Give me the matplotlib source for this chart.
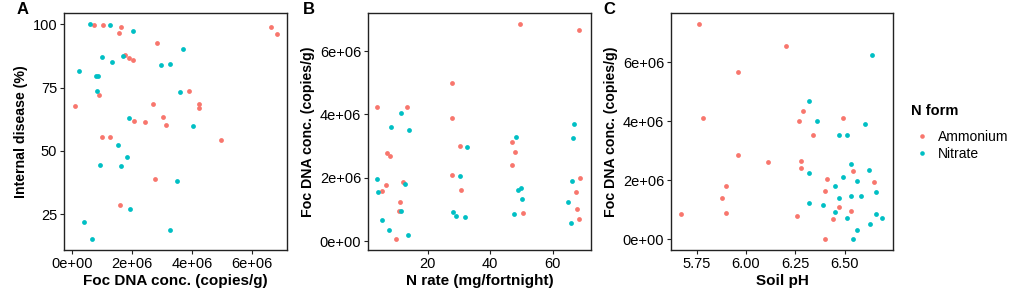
import matplotlib.pyplot as plt
from matplotlib.ticker import FuncFormatter
from matplotlib.lines import Line2D

plt.rcParams['font.family'] = ['Liberation Sans', 'DejaVu Sans']

AMM = '#F8766D'
NIT = '#00BFC4'

# --- Panel A: Foc DNA (x, 1e6 copies/g) vs internal disease (%) ---
a_amm_foc = [0.74, 1.04, 1.64, 1.57, 6.65, 6.84, 2.82, 1.77, 1.88, 2.02, 3.89, 4.25, 4.25,
             0.08, 0.89, 2.70, 3.02, 2.07, 2.42, 3.13, 0.98, 1.25, 4.98, 2.77, 1.59]
a_amm_dis = [99.9, 99.9, 98.9, 96.7, 98.9, 96.3, 92.8, 88.0, 86.7, 85.8, 73.8, 68.4, 67.1,
             67.8, 72.0, 68.7, 63.6, 62.0, 61.6, 60.3, 55.5, 55.5, 54.2, 38.9, 28.8]
a_nit_foc = [0.59, 1.25, 2.04, 3.69, 0.98, 1.33, 1.71, 2.97, 3.27, 0.21, 0.79, 0.86, 0.84,
             3.61, 1.90, 4.03, 1.52, 1.82, 0.93, 1.63, 3.51, 1.93, 0.38, 0.67, 3.27]
a_nit_dis = [100.0, 99.9, 97.2, 90.1, 87.0, 85.1, 87.5, 83.8, 84.5, 81.6, 79.6, 79.6, 73.6,
             73.2, 62.9, 59.7, 52.2, 47.8, 44.6, 44.0, 38.2, 27.0, 22.1, 15.3, 18.8]

# --- Panel B: N rate (mg/fortnight) vs Foc DNA (1e6 copies/g) ---
b_amm_rate = [3.7, 5.3, 6.6, 7.0, 7.8, 11.0, 10.6, 9.8, 12.1, 13.4, 27.8, 27.8, 27.8, 30.4,
              30.5, 49.6, 47.0, 48.0, 47.1, 50.5, 68.5, 68.7, 67.4, 67.7, 68.3]
b_amm_foc = [4.23, 1.58, 1.76, 2.77, 2.69, 1.22, 0.96, 0.06, 1.86, 4.23, 5.00, 3.87, 2.07, 3.00,
             1.60, 6.85, 3.12, 2.82, 2.41, 0.88, 6.65, 1.99, 1.56, 1.01, 0.71]
b_nit_rate = [3.6, 4.1, 5.3, 8.2, 7.6, 11.5, 11.3, 12.8, 13.9, 13.7, 27.9, 28.9, 30.2, 32.0,
              32.4, 48.3, 47.6, 48.8, 49.9, 50.3, 65.0, 65.8, 66.1, 66.4, 67.0]
b_nit_foc = [1.95, 1.54, 0.66, 3.61, 0.35, 4.03, 0.94, 1.79, 3.52, 0.19, 0.92, 0.80, 2.04, 0.76,
             2.97, 3.28, 0.84, 1.60, 1.68, 1.33, 1.24, 0.58, 1.88, 3.25, 3.71]

# --- Panel C: soil pH vs Foc DNA (1e6 copies/g) ---
c_amm_ph = [5.67, 5.76, 5.78, 5.88, 5.90, 5.90, 5.96, 5.96, 6.11, 6.20, 6.26, 6.27, 6.29,
            6.28, 6.28, 6.34, 6.40, 6.40, 6.41, 6.44, 6.47, 6.49, 6.53, 6.54, 6.65]
c_amm_foc = [0.86, 7.30, 4.10, 1.38, 1.80, 0.89, 2.85, 5.67, 2.60, 6.55, 0.77, 4.00, 4.35,
             2.65, 2.41, 3.52, 1.63, 0.01, 2.05, 0.69, 1.08, 4.10, 0.94, 2.32, 1.94]
c_nit_ph = [6.32, 6.36, 6.32, 6.32, 6.39, 6.45, 6.45, 6.47, 6.47, 6.51, 6.49, 6.51, 6.53,
            6.53, 6.56, 6.54, 6.56, 6.58, 6.60, 6.62, 6.63, 6.64, 6.66, 6.66, 6.69]
c_nit_foc = [4.70, 4.01, 2.24, 1.22, 1.17, 1.80, 0.92, 3.52, 1.38, 3.54, 2.09, 0.71, 2.55,
             1.45, 0.31, 0.01, 1.97, 1.45, 3.91, 2.35, 0.52, 6.23, 1.61, 0.86, 0.71]

ph_ticks = [5.75, 6.00, 6.25, 6.50]


def e6(vals):
    return [v * 1e6 for v in vals]


sci = FuncFormatter(lambda v, p: f'{v:.0e}')

fig = plt.figure(figsize=(10.21, 3.03), dpi=100)
W, H = 1021, 303


def make_ax(left, right):
    ax = fig.add_axes([left / W, (H - 250) / H, (right - left) / W, 237 / H])
    for s in ax.spines.values():
        s.set_color('#222222')
        s.set_linewidth(1.0)
    ax.tick_params(length=3, width=0.8, color='#222222', labelsize=10.5,
                   labelcolor='black', pad=2)
    return ax


pt = dict(s=12, linewidths=0)
xlab = dict(fontsize=11, fontweight='bold')
ylab = dict(fontsize=10.2, fontweight='bold')

# A
ax = make_ax(64, 287)
ax.scatter(e6(a_amm_foc), a_amm_dis, color=AMM, **pt)
ax.scatter(e6(a_nit_foc), a_nit_dis, color=NIT, **pt)
ax.set_xlim(-0.278e6, 7.18e6)
ax.set_ylim(10.9, 104.5)
ax.set_xticks([0, 2e6, 4e6, 6e6])
ax.set_yticks([25, 50, 75, 100])
ax.xaxis.set_major_formatter(sci)
ax.set_xlabel('Foc DNA conc. (copies/g)', labelpad=2, **xlab)
ax.set_ylabel('Internal disease (%)', labelpad=3, **ylab)
fig.text(17 / W, 1 - 10 / H, 'A', fontsize=12, fontweight='bold', va='center')

# B
ax = make_ax(368, 591)
ax.scatter(b_amm_rate, e6(b_amm_foc), color=AMM, **pt)
ax.scatter(b_nit_rate, e6(b_nit_foc), color=NIT, **pt)
ax.set_xlim(0.8, 72.3)
ax.set_ylim(-0.284e6, 7.2e6)
ax.set_xticks([20, 40, 60])
ax.set_yticks([0, 2e6, 4e6, 6e6])
ax.yaxis.set_major_formatter(sci)
ax.set_xlabel('N rate (mg/fortnight)', labelpad=2, **xlab)
ax.set_ylabel('Foc DNA conc. (copies/g)', labelpad=3, **ylab)
fig.text(303 / W, 1 - 10 / H, 'B', fontsize=12, fontweight='bold', va='center')

# C
ax = make_ax(671, 893)
ax.scatter(c_amm_ph, e6(c_amm_foc), color=AMM, **pt)
ax.scatter(c_nit_ph, e6(c_nit_foc), color=NIT, **pt)
ax.set_xlim(5.62, 6.744)
ax.set_ylim(-0.37e6, 7.67e6)
ax.set_xticks(ph_ticks)
ax.set_xticklabels([f'{t:.2f}' for t in ph_ticks])
ax.set_yticks([0, 2e6, 4e6, 6e6])
ax.yaxis.set_major_formatter(sci)
ax.set_xlabel('Soil pH', labelpad=2, **xlab)
ax.set_ylabel('Foc DNA conc. (copies/g)', labelpad=3, **ylab)
fig.text(603 / W, 1 - 10 / H, 'C', fontsize=12, fontweight='bold', va='center')

# legend (title drawn separately to match the larger gap)
fig.text(911 / W, 1 - 111 / H, 'N form', fontsize=10.5, fontweight='bold', va='center')
handles = [Line2D([], [], marker='o', ls='', color=AMM, markersize=3.3, markeredgewidth=0),
           Line2D([], [], marker='o', ls='', color=NIT, markersize=3.3, markeredgewidth=0)]
leg = fig.legend(handles, ['Ammonium', 'Nitrate'], loc='upper left',
                 bbox_to_anchor=(903 / W, 1 - 117 / H), frameon=False, fontsize=10,
                 handlelength=1.0, handletextpad=0.6, labelspacing=0.25)

fig.savefig('out.png', dpi=100)
